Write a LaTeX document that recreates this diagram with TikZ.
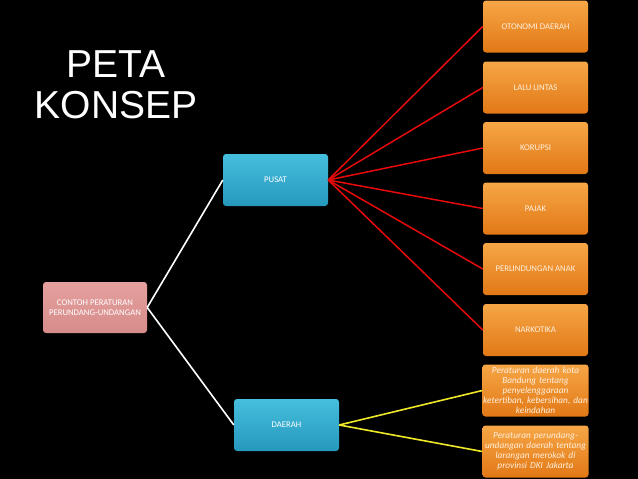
\documentclass[tikz,border=0pt]{standalone}
\usepackage{fontspec}
\setmainfont{Carlito}
\newfontfamily\titlefont{Liberation Sans}
\usetikzlibrary{positioning}
\definecolor{pinktop}{RGB}{228,160,158}
\definecolor{pinkbot}{RGB}{214,140,138}
\definecolor{bluetop}{RGB}{70,190,222}
\definecolor{bluebot}{RGB}{38,152,188}
\definecolor{orangetop}{RGB}{246,166,70}
\definecolor{orangebot}{RGB}{226,120,22}
\definecolor{redline}{RGB}{230,10,10}
\definecolor{yellowline}{RGB}{238,232,40}
\definecolor{boxtext}{RGB}{255,240,222}

\begin{document}
\begin{tikzpicture}[x=1pt,y=-1pt,
	box/.style={rounded corners=3pt, minimum width=105pt, minimum height=52pt, inner sep=1pt, align=center, text=white, font=\fontsize{8.7}{10}\selectfont},
	rootbox/.style={box, minimum width=104pt, minimum height=51pt, top color=pinktop, bottom color=pinkbot},
	bluebox/.style={box, top color=bluetop, bottom color=bluebot},
	orangebox/.style={box, top color=orangetop, bottom color=orangebot, text=boxtext},
	longtext/.style={orangebox, text width=106pt, inner sep=0pt, font=\fontsize{9.3}{10}\selectfont\itshape}]
		\fill [black] (0,0) rectangle (638,479);

		\node (peta) at (116,77) [anchor=base, text=white, font=\titlefont\fontsize{39}{41}\selectfont] {PETA};
		\node (konsep) at (116,118) [anchor=base, text=white, font=\titlefont\fontsize{39}{41}\selectfont] {KONSEP};

		\node (root) at (95,307.5) [rootbox] {CONTOH PERATURAN\\PERUNDANG-UNDANGAN};
		\node (pusat) at (275.5,180) [bluebox] {PUSAT};
		\node (daerah) at (286.5,425) [bluebox] {DAERAH};

		\node (otonomi) at (535.5,26.5) [orangebox] {OTONOMI DAERAH};
		\node (lalulintas) at (535.5,87.5) [orangebox] {LALU LINTAS};
		\node (korupsi) at (535.5,148) [orangebox] {KORUPSI};
		\node (pajak) at (535.5,208.5) [orangebox] {PAJAK};
		\node (anak) at (535.5,269) [orangebox] {PERLINDUNGAN ANAK};
		\node (narkotika) at (535.5,330) [orangebox] {NARKOTIKA};
		\node (bandung) at (535.5,390.5) [longtext] {Peraturan daerah kota\\Bandung tentang\\penyelenggaraan\\ketertiban, kebersihan, dan\\keindahan};
		\node (jakarta) at (535.5,451.5) [longtext] {Peraturan perundang-\\undangan daerah tentang\\larangan merokok di\\provinsi DKI Jakarta};

		\draw [white, line width = 1.6pt] (root.east) edge (pusat.west) (root.east) edge (daerah.west);
		\draw [redline, line width = 1.5pt] (pusat.east) edge (otonomi.west) (pusat.east) edge (lalulintas.west) (pusat.east) edge (korupsi.west) (pusat.east) edge (pajak.west) (pusat.east) edge (anak.west) (pusat.east) edge (narkotika.west);
		\draw [yellowline, line width = 1.6pt] (daerah.east) edge (bandung.west) (daerah.east) edge (jakarta.west);
	\end{tikzpicture}
\end{document}
